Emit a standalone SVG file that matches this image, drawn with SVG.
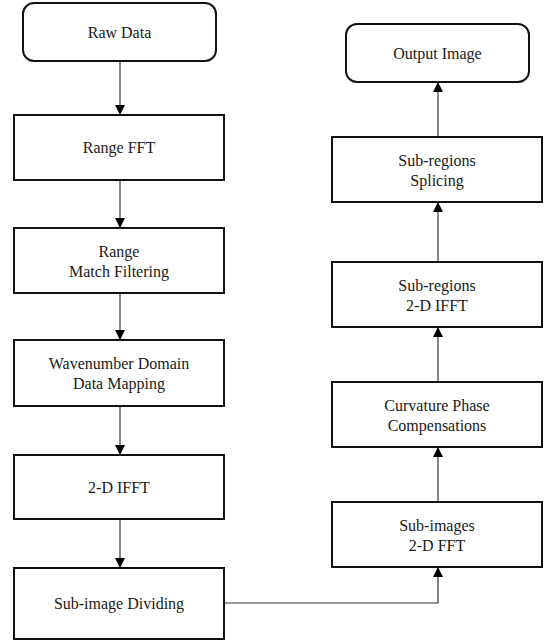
<svg xmlns="http://www.w3.org/2000/svg" width="548" height="642" viewBox="0 0 548 642">
<defs>
<style>
.box{fill:#fff;stroke:#111;stroke-width:2}
.t{font-family:'Liberation Serif','Times New Roman',Times,'DejaVu Serif',serif;font-size:16px;fill:#1a1a1a;text-anchor:middle}
.c{fill:none;stroke:#333;stroke-width:1.2}
</style>
<marker id="ah" viewBox="0 0 10 10" refX="10" refY="5" markerWidth="10" markerHeight="10" markerUnits="userSpaceOnUse" orient="auto">
<path d="M0,0 L10,5 L0,10 Z" fill="#000"/>
</marker>
</defs>
<rect width="548" height="642" fill="#fff"/>
<g id="connectors">
<line class="c" x1="120" y1="61" x2="120" y2="115" marker-end="url(#ah)"/>
<line class="c" x1="120" y1="180" x2="120" y2="228" marker-end="url(#ah)"/>
<line class="c" x1="120" y1="293" x2="120" y2="340" marker-end="url(#ah)"/>
<line class="c" x1="120" y1="406" x2="120" y2="455" marker-end="url(#ah)"/>
<line class="c" x1="120" y1="519" x2="120" y2="568" marker-end="url(#ah)"/>
<polyline class="c" points="224,603 438,603 438,567" marker-end="url(#ah)"/>
<line class="c" x1="438" y1="502" x2="438" y2="447" marker-end="url(#ah)"/>
<line class="c" x1="438" y1="382" x2="438" y2="327" marker-end="url(#ah)"/>
<line class="c" x1="438" y1="262" x2="438" y2="202" marker-end="url(#ah)"/>
<line class="c" x1="438" y1="137" x2="438" y2="82" marker-end="url(#ah)"/>
</g>
<g id="raw-data">
<rect class="box" x="23" y="3" width="193" height="58" rx="11"/>
<text class="t" x="119.5" y="38" font-family="Liberation Serif, serif">Raw Data</text>
</g>
<g id="range-fft">
<rect class="box" x="14" y="115" width="210" height="65"/>
<text class="t" x="119" y="153">Range FFT</text>
</g>
<g id="range-match">
<rect class="box" x="14" y="228" width="210" height="65"/>
<text class="t" x="119" y="257">Range</text>
<text class="t" x="119" y="277">Match Filtering</text>
</g>
<g id="wavenumber">
<rect class="box" x="14" y="340" width="210" height="66"/>
<text class="t" x="119" y="369">Wavenumber Domain</text>
<text class="t" x="119" y="389">Data Mapping</text>
</g>
<g id="ifft-2d">
<rect class="box" x="14" y="455" width="210" height="64"/>
<text class="t" x="119" y="493">2-D IFFT</text>
</g>
<g id="sub-image-dividing">
<rect class="box" x="14" y="568" width="210" height="71"/>
<text class="t" x="119" y="609">Sub-image Dividing</text>
</g>
<g id="sub-images-fft">
<rect class="box" x="332" y="502" width="210" height="65"/>
<text class="t" x="437" y="531">Sub-images</text>
<text class="t" x="437" y="551">2-D FFT</text>
</g>
<g id="curvature">
<rect class="box" x="332" y="382" width="210" height="65"/>
<text class="t" x="437" y="411">Curvature Phase</text>
<text class="t" x="437" y="431">Compensations</text>
</g>
<g id="sub-regions-ifft">
<rect class="box" x="332" y="262" width="210" height="65"/>
<text class="t" x="437" y="291">Sub-regions</text>
<text class="t" x="437" y="311">2-D IFFT</text>
</g>
<g id="sub-regions-splicing">
<rect class="box" x="332" y="137" width="210" height="65"/>
<text class="t" x="437" y="166">Sub-regions</text>
<text class="t" x="437" y="186">Splicing</text>
</g>
<g id="output-image">
<rect class="box" x="346" y="24" width="183" height="58" rx="11"/>
<text class="t" x="437.5" y="59">Output Image</text>
</g>
</svg>
